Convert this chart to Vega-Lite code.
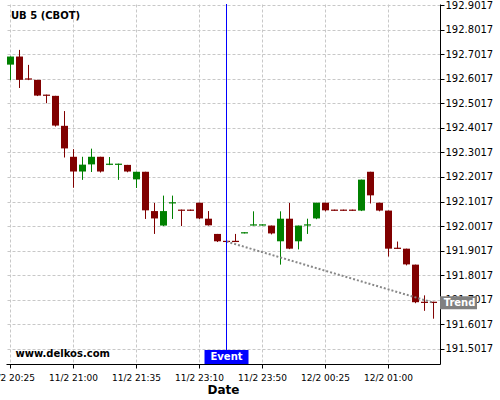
{
  "$schema": "https://vega.github.io/schema/vega-lite/v6.json",
  "width": 434,
  "height": 360,
  "autosize": {"type": "none"},
  "padding": {"left": 6, "top": 4, "right": 60, "bottom": 36},
  "background": "white",
  "config": {"font": "DejaVu Sans", "view": {"stroke": null}},
  "title": {"text": "UB 5 (CBOT)", "anchor": "start", "frame": "group", "offset": -21, "dx": 5, "fontSize": 10, "fontWeight": "bold", "font": "DejaVu Sans", "color": "black"},
  "datasets": {
    "candles": [
      {"t": "11/2 20:25", "o": 192.659, "h": 192.692, "l": 192.596, "c": 192.692},
      {"t": "11/2 20:30", "o": 192.692, "h": 192.719, "l": 192.564, "c": 192.597},
      {"t": "11/2 20:35", "o": 192.603, "h": 192.658, "l": 192.596, "c": 192.598},
      {"t": "11/2 20:40", "o": 192.597, "h": 192.597, "l": 192.531, "c": 192.533},
      {"t": "11/2 20:45", "o": 192.537, "h": 192.537, "l": 192.502, "c": 192.532},
      {"t": "11/2 20:50", "o": 192.532, "h": 192.532, "l": 192.407, "c": 192.411},
      {"t": "11/2 20:55", "o": 192.410, "h": 192.470, "l": 192.281, "c": 192.318},
      {"t": "11/2 21:00", "o": 192.284, "h": 192.315, "l": 192.158, "c": 192.224},
      {"t": "11/2 21:05", "o": 192.224, "h": 192.284, "l": 192.190, "c": 192.252},
      {"t": "11/2 21:10", "o": 192.253, "h": 192.317, "l": 192.222, "c": 192.284},
      {"t": "11/2 21:15", "o": 192.284, "h": 192.284, "l": 192.220, "c": 192.224},
      {"t": "11/2 21:20", "o": 192.251, "h": 192.283, "l": 192.250, "c": 192.256},
      {"t": "11/2 21:25", "o": 192.251, "h": 192.256, "l": 192.190, "c": 192.256},
      {"t": "11/2 21:30", "o": 192.251, "h": 192.251, "l": 192.221, "c": 192.224},
      {"t": "11/2 21:35", "o": 192.192, "h": 192.223, "l": 192.157, "c": 192.223},
      {"t": "11/2 21:40", "o": 192.223, "h": 192.223, "l": 192.031, "c": 192.066},
      {"t": "11/2 21:45", "o": 192.063, "h": 192.096, "l": 191.970, "c": 192.033},
      {"t": "11/2 21:50", "o": 192.004, "h": 192.126, "l": 192.002, "c": 192.063},
      {"t": "11/2 22:55", "o": 192.094, "h": 192.126, "l": 192.031, "c": 192.099},
      {"t": "11/2 23:00", "o": 192.069, "h": 192.069, "l": 192.002, "c": 192.064},
      {"t": "11/2 23:05", "o": 192.069, "h": 192.069, "l": 192.064, "c": 192.064},
      {"t": "11/2 23:10", "o": 192.097, "h": 192.097, "l": 192.030, "c": 192.033},
      {"t": "11/2 23:15", "o": 192.032, "h": 192.063, "l": 192.004, "c": 192.005},
      {"t": "11/2 23:20", "o": 191.970, "h": 191.970, "l": 191.937, "c": 191.940},
      {"t": "11/2 23:25", "o": 191.942, "h": 191.942, "l": 191.937, "c": 191.937},
      {"t": "11/2 23:30", "o": 191.942, "h": 191.970, "l": 191.937, "c": 191.937},
      {"t": "11/2 23:35", "o": 191.972, "h": 191.977, "l": 191.972, "c": 191.977},
      {"t": "11/2 23:40", "o": 192.004, "h": 192.062, "l": 192.004, "c": 192.009},
      {"t": "11/2 23:50", "o": 192.004, "h": 192.009, "l": 192.004, "c": 192.009},
      {"t": "11/2 23:55", "o": 192.004, "h": 192.004, "l": 191.968, "c": 191.972},
      {"t": "12/2 00:00", "o": 191.940, "h": 192.062, "l": 191.845, "c": 192.032},
      {"t": "12/2 00:05", "o": 192.032, "h": 192.096, "l": 191.908, "c": 191.910},
      {"t": "12/2 00:10", "o": 191.940, "h": 192.004, "l": 191.907, "c": 192.004},
      {"t": "12/2 00:15", "o": 192.004, "h": 192.032, "l": 191.970, "c": 192.009},
      {"t": "12/2 00:20", "o": 192.033, "h": 192.097, "l": 192.030, "c": 192.097},
      {"t": "12/2 00:25", "o": 192.097, "h": 192.097, "l": 192.062, "c": 192.066},
      {"t": "12/2 00:30", "o": 192.069, "h": 192.069, "l": 192.064, "c": 192.064},
      {"t": "12/2 00:35", "o": 192.069, "h": 192.069, "l": 192.064, "c": 192.064},
      {"t": "12/2 00:40", "o": 192.069, "h": 192.069, "l": 192.064, "c": 192.064},
      {"t": "12/2 00:45", "o": 192.065, "h": 192.191, "l": 192.063, "c": 192.191},
      {"t": "12/2 00:50", "o": 192.223, "h": 192.223, "l": 192.094, "c": 192.127},
      {"t": "12/2 00:55", "o": 192.097, "h": 192.097, "l": 192.062, "c": 192.065},
      {"t": "12/2 01:00", "o": 192.065, "h": 192.065, "l": 191.878, "c": 191.910},
      {"t": "12/2 01:05", "o": 191.914, "h": 191.939, "l": 191.909, "c": 191.909},
      {"t": "12/2 01:10", "o": 191.910, "h": 191.910, "l": 191.842, "c": 191.846},
      {"t": "12/2 01:15", "o": 191.845, "h": 191.845, "l": 191.688, "c": 191.692},
      {"t": "12/2 01:20", "o": 191.694, "h": 191.720, "l": 191.657, "c": 191.689},
      {"t": "12/2 01:25", "o": 191.694, "h": 191.694, "l": 191.625, "c": 191.689}
    ],
    "event": [{"t": "11/2 23:25", "label": "Event"}],
    "trend": [
      {"t": "11/2 23:25", "v": 191.939},
      {"t": "12/2 01:25", "v": 191.690, "label": "Trend"}
    ],
    "brand": [{"t": "11/2 20:25", "label": "www.delkos.com"}]
  },
  "encoding": {
    "x": {
      "field": "t",
      "type": "ordinal",
      "scale": {"paddingInner": 0.22, "paddingOuter": 0.22, "align": 0.25},
      "axis": {
        "values": ["11/2 20:25", "11/2 21:00", "11/2 21:35", "11/2 23:10", "11/2 23:50", "12/2 00:25", "12/2 01:00"],
        "bandPosition": 0.5,
        "labelAngle": 0,
        "labelFontSize": 9,
        "labelColor": "black",
        "labelPadding": 5,
        "labelOverlap": false,
        "tickSize": 4,
        "tickColor": "black",
        "domainColor": "black",
        "grid": true,
        "gridColor": "#c8c8c8",
        "gridDash": [3, 2],
        "title": "Date",
        "titleFontSize": 12,
        "titleFontWeight": "bold",
        "titleColor": "black",
        "titlePadding": 2
      }
    }
  },
  "layer": [
    {
      "data": {"name": "candles"},
      "mark": {"type": "rule", "strokeWidth": 1},
      "encoding": {
        "y": {
          "field": "l",
          "type": "quantitative",
          "scale": {"domain": [191.4406, 192.9058], "nice": false, "zero": false},
          "axis": {
            "orient": "right",
            "title": null,
            "values": [191.5017, 191.6017, 191.7017, 191.8017, 191.9017, 192.0017, 192.1017, 192.2017, 192.3017, 192.4017, 192.5017, 192.6017, 192.7017, 192.8017, 192.9017],
            "tickCount": 30,
            "format": ".4f",
            "labelFontSize": 10,
            "labelColor": "black",
            "labelPadding": 1,
            "labelOverlap": false,
            "labelBound": false,
            "tickSize": 4,
            "tickColor": "black",
            "domainColor": "black",
            "grid": true,
            "gridColor": "#c8c8c8",
            "gridDash": [3, 2]
          }
        },
        "y2": {"field": "h"},
        "color": {"condition": {"test": "datum.c >= datum.o", "value": "#008000"}, "value": "#800000"}
      }
    },
    {
      "data": {"name": "candles"},
      "mark": {"type": "bar"},
      "encoding": {
        "y": {"field": "o", "type": "quantitative"},
        "y2": {"field": "c"},
        "color": {"condition": {"test": "datum.c >= datum.o", "value": "#008000"}, "value": "#800000"}
      }
    },
    {
      "data": {"name": "trend"},
      "mark": {"type": "line", "color": "#888888", "strokeWidth": 2, "strokeDash": [2, 2]},
      "encoding": {"y": {"field": "v", "type": "quantitative"}}
    },
    {
      "data": {"name": "event"},
      "mark": {"type": "rule", "color": "#0000ff", "strokeWidth": 1},
      "encoding": {}
    },
    {
      "data": {"name": "event"},
      "mark": {"type": "point", "shape": "M-1,-0.3182L1,-0.3182L1,0.3182L-1,0.3182Z", "size": 1936, "filled": true, "opacity": 1, "color": "#0000ff", "yOffset": -7},
      "encoding": {"y": {"value": "height"}}
    },
    {
      "data": {"name": "event"},
      "mark": {"type": "text", "color": "white", "fontSize": 10, "fontWeight": "bold", "align": "center", "baseline": "middle", "yOffset": -7},
      "encoding": {"y": {"value": "height"}, "text": {"field": "label"}}
    },
    {
      "data": {"name": "trend"},
      "transform": [{"filter": "isValid(datum.label)"}],
      "mark": {"type": "point", "shape": "M-1,-0.3514L1,-0.3514L1,0.3514L-1,0.3514Z", "size": 1369, "filled": true, "opacity": 1, "color": "#808080", "xOffset": 25},
      "encoding": {"y": {"field": "v", "type": "quantitative"}}
    },
    {
      "data": {"name": "trend"},
      "transform": [{"filter": "isValid(datum.label)"}],
      "mark": {"type": "text", "color": "white", "fontSize": 10, "fontWeight": "bold", "align": "center", "baseline": "middle", "xOffset": 26},
      "encoding": {"y": {"field": "v", "type": "quantitative"}, "text": {"field": "label"}}
    },
    {
      "data": {"name": "brand"},
      "mark": {"type": "text", "color": "black", "fontSize": 10, "fontWeight": "bold", "align": "left", "baseline": "alphabetic", "dx": 5, "dy": -6.7},
      "encoding": {"y": {"value": "height"}, "text": {"field": "label"}}
    }
  ]
}
